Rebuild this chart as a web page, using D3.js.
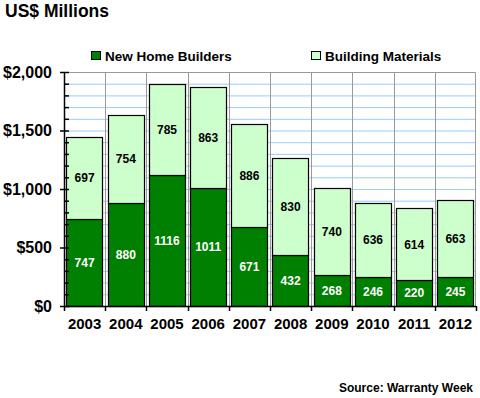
<!DOCTYPE html>
<html>
<head>
<meta charset="utf-8">
<script src="https://cdn.jsdelivr.net/npm/d3@7"></script>
<style>
  body { margin: 0; background: #fff; }
  svg { display: block; font-family: "Liberation Sans", Arial, sans-serif; font-weight: bold; }
</style>
</head>
<body>
<svg id="chart" width="480" height="398"></svg>
<script>
'use strict';

const years = ['2003', '2004', '2005', '2006', '2007', '2008', '2009', '2010', '2011', '2012'];
const builders = [747, 880, 1116, 1011, 671, 432, 268, 246, 220, 245];
const materials = [697, 754, 785, 863, 886, 830, 740, 636, 614, 663];
const seriesNames = ['New Home Builders', 'Building Materials'];
const seriesColors = ['#008000', '#ccffcc'];
const majorTicks = [0, 500, 1000, 1500, 2000];

const svg = d3.select('#chart');
const plot = { left: 64, right: 476, top: 72, bottom: 306 };

const x = d3.scaleBand()
    .domain(years)
    .range([plot.left, plot.right])
    .paddingInner(0.12)
    .paddingOuter(0.06);

const y = d3.scaleLinear()
    .domain([0, 2000])
    .range([plot.bottom, plot.top]);

// horizontal minor gridlines every 100
svg.append('g')
    .selectAll('line')
    .data(d3.range(100, 2000, 100))
    .enter().append('line')
    .attr('x1', plot.left).attr('x2', plot.right)
    .attr('y1', d => y(d) + 0.5).attr('y2', d => y(d) + 0.5)
    .attr('stroke', '#99ccff');

// vertical gridlines at category boundaries
const step = x.step();
svg.append('g')
    .selectAll('line')
    .data(years.slice(1))
    .enter().append('line')
    .attr('x1', (d, i) => Math.round(plot.left + step * (i + 1)) + 0.5)
    .attr('x2', (d, i) => Math.round(plot.left + step * (i + 1)) + 0.5)
    .attr('y1', plot.top).attr('y2', plot.bottom)
    .attr('stroke', '#999');

// top and right border
svg.append('path')
    .attr('d', `M${plot.left},${plot.top + 0.5}H${plot.right - 0.5}V${plot.bottom}`)
    .attr('fill', 'none')
    .attr('stroke', '#999');

// stacked bars
const rows = years.map((yr, i) => ({ year: yr, b: builders[i], m: materials[i] }));
const stack = d3.stack().keys(['b', 'm'])(rows);

const layers = svg.append('g')
    .selectAll('g')
    .data(stack)
    .enter().append('g')
    .attr('fill', (d, i) => seriesColors[i]);

layers.selectAll('rect')
    .data(d => d)
    .enter().append('rect')
    .attr('x', d => Math.round(x(d.data.year)) + 0.5)
    .attr('width', Math.round(x.bandwidth()))
    .attr('y', d => Math.round(y(d[1])) + 0.5)
    .attr('height', d => Math.round(y(d[0])) - Math.round(y(d[1])))
    .attr('stroke', '#000')
    .attr('stroke-width', 1.2);

// value labels
layers.selectAll('text')
    .data((d, i) => d.map(v => ({ v: v, s: i })))
    .enter().append('text')
    .attr('x', d => x(d.v.data.year) + x.bandwidth() / 2)
    .attr('y', d => (y(d.v[0]) + y(d.v[1])) / 2)
    .attr('dy', '0.36em')
    .attr('text-anchor', 'middle')
    .attr('font-size', 12)
    .attr('fill', d => d.s === 0 ? '#fff' : '#000')
    .text(d => d.v[1] - d.v[0]);

// y axis
const yAxis = svg.append('g');
yAxis.append('line')
    .attr('x1', plot.left + 0.5).attr('x2', plot.left + 0.5)
    .attr('y1', plot.top).attr('y2', plot.bottom + 1)
    .attr('stroke', '#000').attr('stroke-width', 1.5);
yAxis.selectAll('.minor')
    .data(d3.range(100, 2000, 100).filter(v => v % 500 !== 0))
    .enter().append('line')
    .attr('x1', plot.left).attr('x2', plot.left + 5)
    .attr('y1', d => y(d) + 0.5).attr('y2', d => y(d) + 0.5)
    .attr('stroke', '#000').attr('stroke-width', 1.5);
yAxis.selectAll('.major')
    .data(majorTicks)
    .enter().append('line')
    .attr('x1', plot.left - 4).attr('x2', plot.left + 5)
    .attr('y1', d => y(d) + 0.5).attr('y2', d => y(d) + 0.5)
    .attr('stroke', '#000').attr('stroke-width', 1.5);
yAxis.selectAll('text')
    .data(majorTicks)
    .enter().append('text')
    .attr('x', 52)
    .attr('y', d => y(d))
    .attr('dy', '0.36em')
    .attr('text-anchor', 'end')
    .attr('font-size', 16)
    .text(d => d3.format('$,')(d));

// x axis
const xAxis = svg.append('g');
xAxis.append('line')
    .attr('x1', plot.left).attr('x2', plot.right)
    .attr('y1', plot.bottom + 0.5).attr('y2', plot.bottom + 0.5)
    .attr('stroke', '#000').attr('stroke-width', 1.5);
xAxis.selectAll('.tick')
    .data(d3.range(years.length + 1))
    .enter().append('line')
    .attr('x1', i => Math.round(plot.left + step * i) + 0.5)
    .attr('x2', i => Math.round(plot.left + step * i) + 0.5)
    .attr('y1', plot.bottom).attr('y2', plot.bottom + 5)
    .attr('stroke', '#000').attr('stroke-width', 1.5);
xAxis.selectAll('text')
    .data(years)
    .enter().append('text')
    .attr('x', d => x(d) + x.bandwidth() / 2)
    .attr('y', 329)
    .attr('text-anchor', 'middle')
    .attr('font-size', 15)
    .text(d => d);

// legend
const legendX = [91, 311];
const legend = svg.append('g')
    .selectAll('g')
    .data(seriesNames)
    .enter().append('g')
    .attr('transform', (d, i) => `translate(${legendX[i]},51)`);
legend.append('rect')
    .attr('x', 0.5).attr('y', 0.5)
    .attr('width', 9).attr('height', 8)
    .attr('fill', (d, i) => seriesColors[i])
    .attr('stroke', '#000');
legend.append('text')
    .attr('x', 14).attr('y', 9.5)
    .attr('font-size', 13.5)
    .text(d => d);

// title and source
svg.append('text')
    .attr('x', 5).attr('y', 17)
    .attr('font-size', 17.5)
    .text('US$ Millions');

svg.append('text')
    .attr('x', 473).attr('y', 392)
    .attr('text-anchor', 'end')
    .attr('font-size', 12)
    .text('Source: Warranty Week');
</script>
</body>
</html>
